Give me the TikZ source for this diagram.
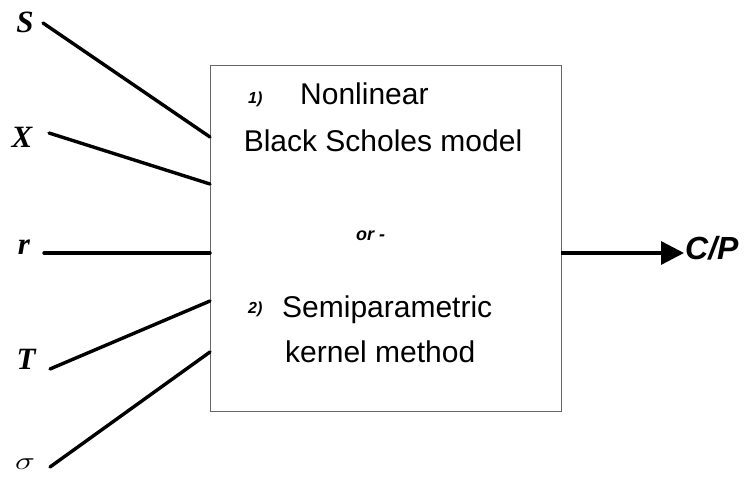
\documentclass[tikz,border=0pt]{standalone}
\usepackage{fontspec}
\setmainfont{Liberation Sans}
\newfontfamily\tms{Liberation Serif}
\usetikzlibrary{arrows.meta}
\tikzset{
  inp/.style={line width=3.4pt, line cap=round},
  var/.style={anchor=base, inner sep=0pt, font=\tms\bfseries\itshape\fontsize{31}{34}\selectfont},
  big/.style={inner sep=0pt, font=\fontsize{30}{34}\selectfont},
  small/.style={inner sep=0pt, font=\bfseries\itshape\fontsize{16}{19}\selectfont},
  blk/.style={draw=black!60, line width=1pt, minimum width=351pt, minimum height=346pt, inner sep=0pt}
}
\begin{document}
\begin{tikzpicture}[x=1pt,y=-1pt]
\useasboundingbox (0,0) rectangle (748,481);
\node[blk] (box) at (385.5,239) {};
% labels
\node[var] (lS) at (25,33) {S};
\node[var] (lX) at (22,148) {X};
\node[var] (lr) at (24,255) {r};
\node[var] (lT) at (26,370) {T};
\node[anchor=base, inner sep=0pt, font=\fontsize{28}{32}\selectfont] (ls) at (25,469) {\scalebox{1.35}[1]{$\sigma$}};
% connector ends
\coordinate (aS) at (43,23);
\coordinate (aX) at (49,133);
\coordinate (ar) at (44,253);
\coordinate (aT) at (50,369);
\coordinate (as) at (50,467);
\coordinate (bS) at (210,137);
\coordinate (bX) at (210,184);
\coordinate (br) at (210,253);
\coordinate (bT) at (210,301);
\coordinate (bs) at (210,352);
\draw[inp] (aS) -- (bS);
\draw[inp] (aX) -- (bX);
\draw[inp] (ar) -- (br);
\draw[inp] (aT) -- (bT);
\draw[inp] (as) -- (bs);
% box text
\node[small, anchor=base west] (n1) at (248,104) {1)};
\node[big, anchor=base west] (t1) at (300,105) {Nonlinear};
\node[big, anchor=base] (t2) at (383,152) {Black Scholes model};
\node[inner sep=0pt, anchor=base west, font=\bfseries\itshape\fontsize{18}{21}\selectfont] (or) at (356,241) {or -};
\node[small, anchor=base west] (n2) at (248,314) {2)};
\node[big, anchor=base west] (t3) at (282,318) {Semiparametric};
\node[big, anchor=base west] (t4) at (285,363) {kernel method};
% output
\coordinate (oA) at (561,253);
\node[inner sep=0pt, anchor=base west, font=\bfseries\itshape\fontsize{32}{36}\selectfont] (cp) at (685,260) {C/P};
\coordinate (oB) at (684,253);
\draw[line width=3.4pt, -{Triangle[length=23pt,width=23pt]}] (oA) -- (oB);
\end{tikzpicture}
\end{document}
